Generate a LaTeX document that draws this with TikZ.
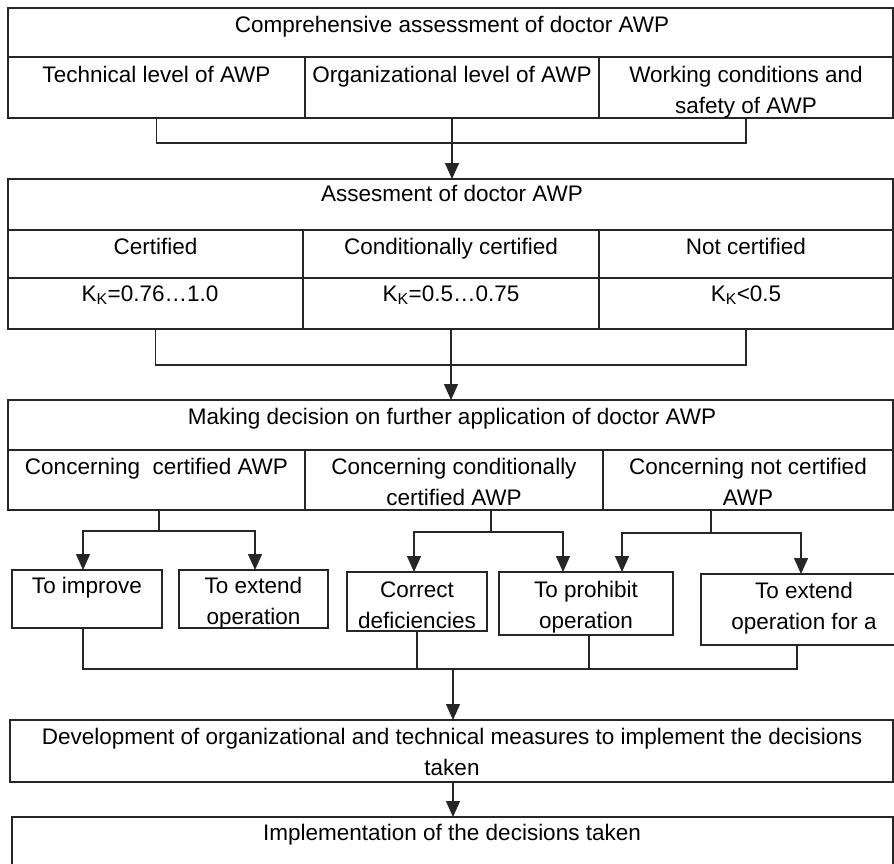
\documentclass[tikz,border=0pt]{standalone}
\usepackage{fontspec}
\setmainfont{Liberation Sans}
\usetikzlibrary{arrows.meta}
\newcommand{\twoln}[2]{\begin{tabular}[t]{@{}c@{}}#1\\#2\end{tabular}}
\begin{document}
\begin{tikzpicture}[x=1pt,y=-1pt,
  box/.style={draw=black!85, line width=1.5pt, inner sep=0pt, outer sep=0pt, anchor=north west},
  txt/.style={anchor=base, inner sep=0pt, font=\fontsize{22.5}{31}\selectfont},
  conn/.style={draw=black!85, line width=1.4pt},
  arr/.style={conn, -{Triangle[width=14pt,length=16pt]}}]
\path[use as bounding box] (0,0) rectangle (894,863);
\clip (0,0) rectangle (894,863);

% Block 1
\node[box, minimum width=885pt, minimum height=49pt] (h1) at (8,8) {};
\node[box, minimum width=297pt, minimum height=61pt] (a1) at (8,57) {};
\node[box, minimum width=294pt, minimum height=61pt] (a2) at (305,57) {};
\node[box, minimum width=294pt, minimum height=61pt] (a3) at (599,57) {};
\node[txt] (th1) at (452,32) {Comprehensive assessment of doctor AWP};
\node[txt] (ta1) at (156.5,82) {Technical level of AWP};
\node[txt] (ta2) at (452,82) {Organizational level of AWP};
\node[txt] (ta3) at (746,82) {\twoln{Working conditions and}{safety of AWP}};

% Block 2
\node[box, minimum width=885pt, minimum height=51pt] (h2) at (8,179) {};
\node[box, minimum width=295pt, minimum height=48pt] (b1) at (8,230) {};
\node[box, minimum width=296pt, minimum height=48pt] (b2) at (303,230) {};
\node[box, minimum width=294pt, minimum height=48pt] (b3) at (599,230) {};
\node[box, minimum width=295pt, minimum height=51pt] (c1) at (8,278) {};
\node[box, minimum width=296pt, minimum height=51pt] (c2) at (303,278) {};
\node[box, minimum width=294pt, minimum height=51pt] (c3) at (599,278) {};
\node[txt] (th2) at (452,201) {Assesment of doctor AWP};
\node[txt] (tb1) at (155.5,254) {Certified};
\node[txt] (tb2) at (451,254) {Conditionally certified};
\node[txt] (tb3) at (746,254) {Not certified};
\node[txt] (tc1) at (150,301) {K\textsubscript{K}=0.76…1.0};
\node[txt] (tc2) at (451,301) {K\textsubscript{K}=0.5…0.75};
\node[txt] (tc3) at (746,301) {K\textsubscript{K}<0.5};

% Block 3
\node[box, minimum width=885pt, minimum height=50pt] (h3) at (8,400) {};
\node[box, minimum width=297pt, minimum height=60pt] (d1) at (8,450) {};
\node[box, minimum width=298pt, minimum height=60pt] (d2) at (305,450) {};
\node[box, minimum width=290pt, minimum height=60pt] (d3) at (603,450) {};
\node[txt] (th3) at (452,424) {Making decision on further application of doctor AWP};
\node[txt] (td1) at (156.5,474) {Concerning~ certified AWP};
\node[txt] (td2) at (454,474) {\twoln{Concerning conditionally}{certified AWP}};
\node[txt] (td3) at (748,474) {\twoln{Concerning not certified}{AWP}};

% Decision boxes
\node[box, minimum width=150pt, minimum height=58pt] (imp) at (12,570) {};
\node[box, minimum width=149pt, minimum height=58pt] (ext) at (179,570) {};
\node[box, minimum width=140pt, minimum height=59pt] (cor) at (347,572) {};
\node[box, minimum width=174pt, minimum height=63pt] (pro) at (499,572) {};
\node[box, minimum width=206pt, minimum height=71pt] (efa) at (701,574) {};
\node[txt] (timp) at (87,593) {To improve};
\node[txt] (text) at (253.5,593) {\twoln{To extend}{operation}};
\node[txt] (tcor) at (417,597) {\twoln{Correct}{deficiencies}};
\node[txt] (tpro) at (586,597) {\twoln{To prohibit}{operation}};
\node[txt] (tefa) at (804,598) {\twoln{To extend}{operation for a}};

% Final boxes
\node[box, minimum width=883pt, minimum height=62pt] (dev) at (10,720) {};
\node[box, minimum width=881pt, minimum height=70pt] (impl) at (12,817) {};
\node[txt] (tdev) at (452,744) {\twoln{Development of organizational and technical measures to implement the decisions}{taken}};
\node[txt] (timpl) at (452,840) {Implementation of the decisions taken};

% Connectors block 1 -> 2
\coordinate (j1) at (452,143);
\draw[conn] (a1.south) |- (j1) -| (a3.south);
\draw[arr] (a2.south) -- (a2.south |- h2.north);

% Connectors block 2 -> 3
\coordinate (j2) at (451,365);
\draw[conn] (c1.south) |- (j2) -| (c3.south);
\draw[arr] (c2.south) -- (c2.south |- h3.north);

% Forks from block 3
\coordinate (s1) at (159,510);
\coordinate (f1) at (159,531);
\coordinate (s2) at (491,510);
\coordinate (f2) at (491,532);
\coordinate (s3) at (711,510);
\coordinate (f3) at (711,533);
\draw[conn] (s1) -- (f1);
\draw[arr] (f1) -| ([xshift=-4pt]imp.north);
\draw[arr] (f1) -| ([xshift=1.5pt]ext.north);
\draw[conn] (s2) -- (f2);
\draw[arr] (f2) -| ([xshift=-3pt]cor.north);
\draw[arr] (f2) -| ([xshift=-23pt]pro.north);
\draw[conn] (s3) -- (f3);
\draw[arr] (f3) -| ([xshift=36pt]pro.north);
\draw[arr] (f3) -| ([xshift=-3pt]efa.north);

% Merge to development
\coordinate (j3) at (453,669);
\coordinate (pb) at ([xshift=3pt]pro.south);
\draw[conn] ([xshift=-4pt]imp.south) |- (j3) -| ([xshift=-7pt]efa.south);
\draw[conn] (cor.south) -- (cor.south |- j3);
\draw[conn] (pb) -- (pb |- j3);
\draw[arr] (j3) -- (j3 |- dev.north);
\draw[arr] (j3 |- dev.south) -- (j3 |- impl.north);
\end{tikzpicture}
\end{document}
